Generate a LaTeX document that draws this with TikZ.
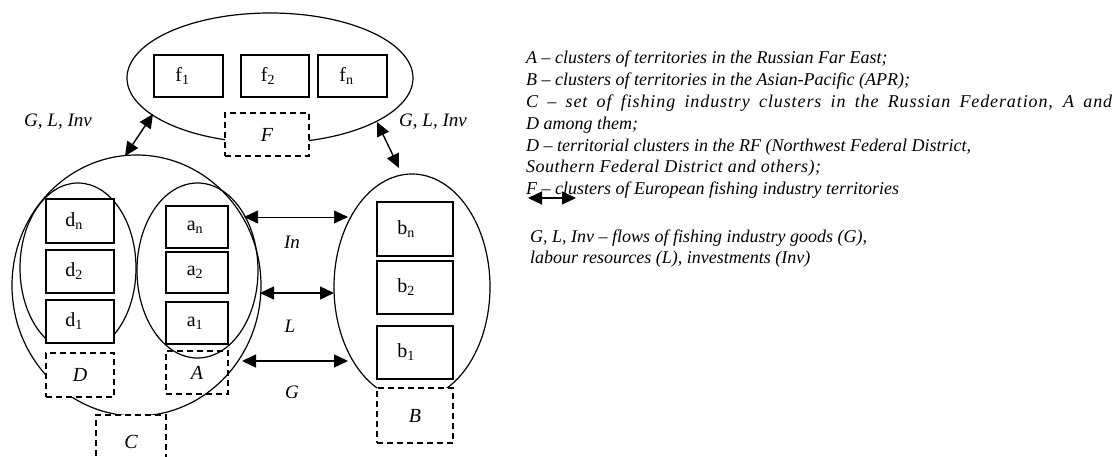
\documentclass[tikz,border=0pt]{standalone}
\usepackage{fontspec}
\setmainfont{Liberation Serif}
\newfontface\lsA[LetterSpace=5]{Liberation Serif Italic}
\newfontface\lsB[LetterSpace=2.7]{Liberation Serif Italic}
\usetikzlibrary{shapes.geometric,arrows.meta}
\tikzset{
  ell/.style={draw, ellipse, inner sep=0pt, line width=1.2pt},
  bx/.style={draw, fill=white, line width=1.7pt, inner sep=0pt, font=\fontsize{20}{22}\selectfont},
  dbox/.style={draw, fill=white, line width=1.3pt, dash pattern=on 6pt off 4pt, inner sep=0pt, font=\fontsize{20}{22}\selectfont\itshape},
  dbl/.style={{Triangle[length=14pt,width=13pt]}-{Triangle[length=14pt,width=13pt]}, line width=1.4pt},
  flab/.style={font=\fontsize{19}{21}\selectfont\itshape, inner sep=0pt},
  leg/.style={anchor=base west, inner sep=0pt, font=\fontsize{18}{20}\selectfont\itshape}
}
\begin{document}
\begin{tikzpicture}[x=1pt,y=-1pt]
\useasboundingbox (0,0) rectangle (1114,457);
% F cluster
\node[ell, minimum width=286pt, minimum height=130pt] (Fell) at (270,78) {};
\node[bx, minimum width=69pt, minimum height=42pt] (f1) at (188.5,76) {f\textsubscript{1}\hspace*{12pt}};
\node[bx, minimum width=68pt, minimum height=42pt] (f2) at (275,76) {f\textsubscript{2}\hspace*{14pt}};
\node[bx, minimum width=69pt, minimum height=42pt] (fn) at (352.5,76) {f\textsubscript{n}\hspace*{12pt}};
\node[dbox, minimum width=84pt, minimum height=43pt] (Fbox) at (267,134.5) {F};
% C cluster
\node[ell, minimum width=249pt, minimum height=261pt] (Cell) at (136.5,285.5) {};
\begin{scope}
\clip (0,0) rectangle (300,343);
\node[ell, minimum width=116pt, minimum height=170pt] (Dell) at (78,268) {};
\end{scope}
\node[dbox, minimum width=68pt, minimum height=44pt] (Dbox) at (80,375) {D};
\node[dbox, minimum width=70pt, minimum height=55pt] (Cbox) at (131,442.5) {\raisebox{2pt}{C}};
\node[dbox, fill=none, minimum width=62pt, minimum height=43pt] (Abox) at (197,372.5) {A};
\node[ell, minimum width=121pt, minimum height=175pt] (Aell) at (197.5,270.5) {};
\node[bx, minimum width=68pt, minimum height=44pt] (dn) at (80,221) {d\textsubscript{n}\hspace*{12pt}};
\node[bx, minimum width=68pt, minimum height=43pt] (d2) at (80,271.5) {d\textsubscript{2}\hspace*{12pt}};
\node[bx, minimum width=68pt, minimum height=43pt] (d1) at (80,321.5) {d\textsubscript{1}\hspace*{12pt}};
\node[bx, minimum width=62pt, minimum height=42pt] (an) at (197,227) {a\textsubscript{n}\hspace*{4pt}};
\node[bx, minimum width=62pt, minimum height=41pt] (a2) at (197,272.5) {a\textsubscript{2}\hspace*{4pt}};
\node[bx, minimum width=62pt, minimum height=42pt] (a1) at (197,323) {a\textsubscript{1}\hspace*{4pt}};
% B cluster
\node[ell, minimum width=156pt, minimum height=226pt] (Bell) at (412,287) {};
\node[bx, minimum width=76pt, minimum height=54pt] (bn) at (415,229) {b\textsubscript{n}\hspace*{18pt}};
\node[bx, minimum width=76pt, minimum height=53pt] (b2) at (415,287.5) {b\textsubscript{2}\hspace*{18pt}};
\node[bx, minimum width=76pt, minimum height=53pt] (b1) at (415,352.5) {b\textsubscript{1}\hspace*{18pt}};
\node[dbox, minimum width=76pt, minimum height=55pt] (Bbox) at (415,415.5) {B};
% flows
\coordinate (fl) at (153,114);
\coordinate (cl) at (125,156);
\coordinate (fr) at (377,122);
\coordinate (br) at (399,168);
\coordinate (inl) at (244,217);
\coordinate (inr) at (348,217);
\coordinate (ll) at (260,293);
\coordinate (lr) at (334,293);
\coordinate (gl) at (242,361);
\coordinate (gr) at (348,361);
\draw[dbl] (fl) -- (cl);
\draw[dbl] (fr) -- (br);
\draw[dbl, line width=0.6pt] (inl) -- (inr);
\draw[dbl] (ll) -- (lr);
\draw[dbl] (gl) -- (gr);
\node[flab] (glil) at (58,122) {G, L, Inv};
\node[flab] (glir) at (433,122) {G, L, Inv};
\node[flab] (inlab) at (292,242) {In};
\node[flab] (llab) at (290,326) {L};
\node[flab] (glab) at (292,392) {G};
% legend
\node[leg] (t1) at (526,64) {A – clusters of territories in the Russian Far East;};
\node[leg] (t2) at (526,86) {B – clusters of territories in the Asian-Pacific (APR);};
\node[leg] (t3) at (526,108) {\lsA\makebox[586pt][s]{C – set of fishing industry clusters in the Russian Federation, A and}};
\node[leg] (t4) at (526,130) {D among them;};
\node[leg] (t5) at (526,152) {D – territorial clusters in the RF (Northwest Federal District,};
\node[leg] (t6) at (526,173) {\lsB Southern Federal District and others);};
\node[leg] (t7) at (526,195) {F – clusters of European fishing industry territories};
\node[leg] (t8) at (530,243) {G, L, Inv – flows of fishing industry goods (G),};
\node[leg] (t9) at (530,264) {labour resources (L), investments (Inv)};
\coordinate (kl) at (528,198);
\coordinate (kr) at (576,198);
\draw[dbl] (kl) -- (kr);
\end{tikzpicture}
\end{document}
